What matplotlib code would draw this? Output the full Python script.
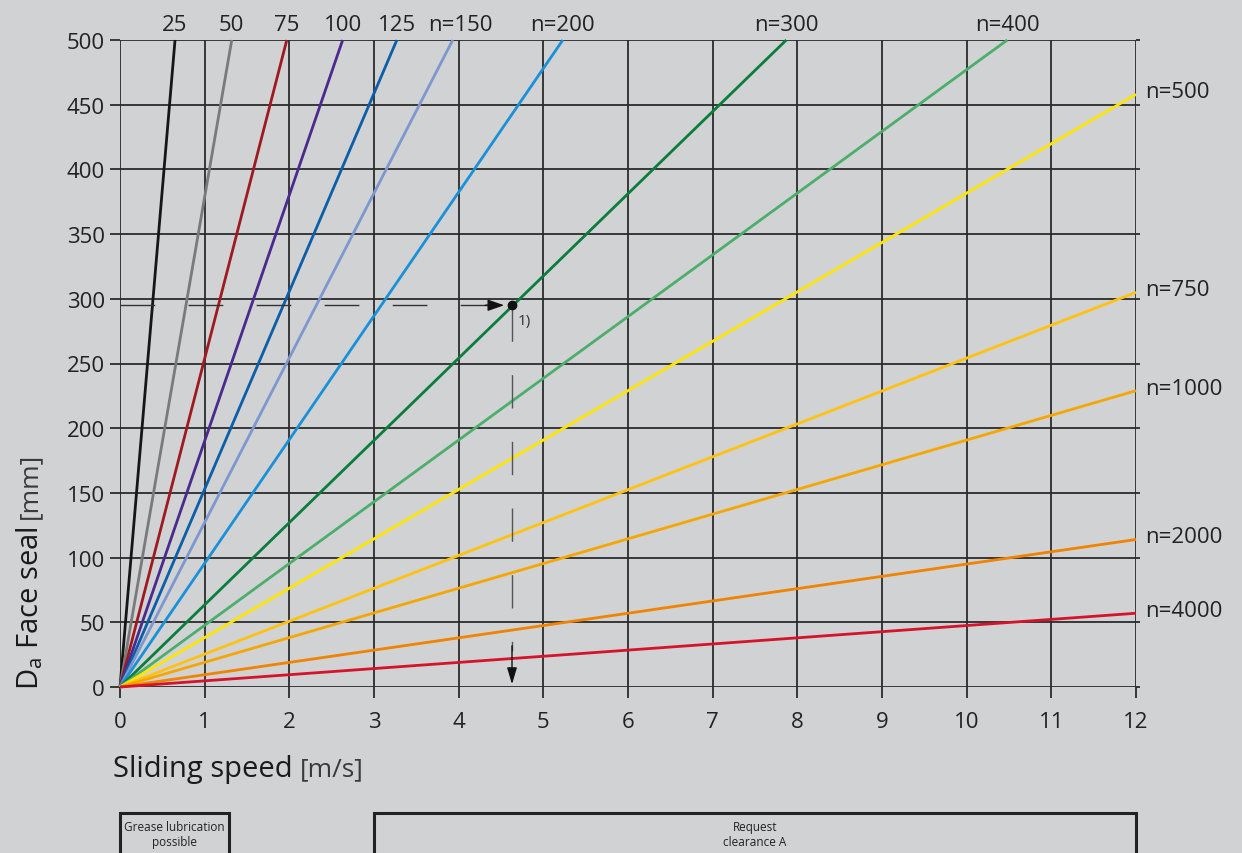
import matplotlib
matplotlib.use("Agg")
import matplotlib.pyplot as plt
from matplotlib.patches import Rectangle
import matplotlib.transforms as mtrans

plt.rcParams['font.family'] = ['Open Sans', 'DejaVu Sans']

# ---- data ----
line_labels = ["25", "50", "75", "100", "125", "n=150", "n=200", "n=300",
               "n=400", "n=500", "n=750", "n=1000", "n=2000", "n=4000"]
end_x = [0.65, 1.32, 1.97, 2.63, 3.27, 3.93, 5.23, 7.87, 10.48, 12, 12, 12, 12, 12]
end_y = [500, 500, 500, 500, 500, 500, 500, 500, 500, 458, 305, 229, 114, 57]
line_colors = ["#161616", "#7a7a7a", "#9e1a20", "#4a2a8c", "#0b5ea8", "#7d97cf",
               "#1a90d8", "#0a7d3c", "#4cae6b", "#ffe500", "#ffc20e", "#f7a600",
               "#f08300", "#d5132b"]

x_ticks = list(range(0, 13))
y_ticks = list(range(0, 501, 50))

example_v = 4.63
example_d = 295

bg = "#d1d2d4"

fig = plt.figure(figsize=(12.42, 8.54), dpi=100, facecolor=bg)
ax = fig.add_axes([120/1242, 1-688/854, (1136-120)/1242, (688-41)/854])
ax.set_facecolor(bg)
ax.set_xlim(0, 12)
ax.set_ylim(0, 500)

# grid
for xv in x_ticks:
    ax.axvline(xv, color="#2b2b2b", lw=1.3, zorder=1)
for yv in y_ticks:
    ax.axhline(yv, color="#2b2b2b", lw=1.3, zorder=1)

for s in ax.spines.values():
    s.set_visible(False)

ax.set_xticks(x_ticks)
ax.set_yticks(y_ticks)
ax.tick_params(axis="both", direction="out", width=1.3, color="#2b2b2b",
               labelsize=16, labelcolor="#222222")
ax.tick_params(axis="x", length=8, pad=9)
ax.tick_params(axis="y", length=7, pad=4)
ax.yaxis.set_ticks_position("both")
for t in ax.yaxis.get_major_ticks():
    t.tick2line.set_markersize(3)
ax.tick_params(axis="y", labelright=False)

# lines
for lab, ex, ey, c in zip(line_labels, end_x, end_y, line_colors):
    ax.plot([0, ex], [0, ey], color=c, lw=2.0, solid_capstyle="butt", zorder=3,
            clip_on=False)
    if ey >= 500:
        ax.text(ex + (0.09 if lab == "n=150" else 0.0), 512, lab, ha="center", va="center",
                fontsize=16, color="#222222", clip_on=False)
    else:
        ax.text(12.11, ey + 2, lab, ha="left", va="center", fontsize=16,
                color="#222222", clip_on=False)

# example reading
ax.plot([0.0, example_v - 0.2], [example_d, example_d], color="#333333", lw=1.0,
        dashes=(25, 24), zorder=4)
ax.annotate("", xy=(example_v - 0.06, example_d), xytext=(example_v - 0.35, example_d),
            arrowprops=dict(arrowstyle="-|>,head_length=1.0,head_width=0.35",
                            color="#111111", lw=1.0), zorder=5)
ax.plot([example_v, example_v], [example_d - 2, 28], color="#555555", lw=1.0,
        dashes=(24, 24), zorder=4)
ax.annotate("", xy=(example_v, 0), xytext=(example_v, 34),
            arrowprops=dict(arrowstyle="-|>,head_length=1.0,head_width=0.3",
                            color="#111111", lw=1.0), zorder=5)
ax.plot([example_v], [example_d], "o", color="#111111", ms=6, zorder=6)
ax.text(example_v + 0.07, example_d - 12, "1)", fontsize=11, color="#333333",
        ha="left", va="center")

# axis labels
fig.canvas.draw()
r = fig.canvas.get_renderer()
t1 = fig.text(113/1242, 1-770/854, "Sliding speed", fontsize=21, color="#1a1a1a",
              ha="left", va="center")
bb = t1.get_window_extent(r)
fig.text((bb.x1 + 7)/1242, 1-770/854, "[m/s]", fontsize=19, color="#3a3a3a",
         ha="left", va="center")
t2 = fig.text(30/1242, 1-690/854, "D$_\\mathregular{a}$ Face seal", fontsize=21,
              color="#1a1a1a", rotation=90, ha="center", va="bottom")
bb2 = t2.get_window_extent(r)
fig.text(30/1242, (bb2.y1 + 7)/854, "[mm]", fontsize=19, color="#3a3a3a",
         rotation=90, ha="center", va="bottom")

# bottom boxes
trans = mtrans.blended_transform_factory(ax.transData, fig.transFigure)
box_y0 = 1 - 814/854
boxes = [(0, 1.29, ["Grease lubrication", "possible"]),
         (3.0, 12.0, ["Request", "clearance A"])]
for x0, x1, txt in boxes:
    rect = Rectangle((x0, box_y0 - 0.2), x1 - x0, 0.2, transform=trans, fill=False,
                     edgecolor="#222222", lw=2.2, clip_on=False)
    fig.add_artist(rect)
    for i, t in enumerate(txt):
        fig.text((x0 + x1) / 2, 1 - (828 + 15 * i)/854, t, transform=trans,
                 ha="center", va="center", fontsize=8.5, color="#222222")

fig.savefig("out.png", dpi=100, facecolor=bg)
